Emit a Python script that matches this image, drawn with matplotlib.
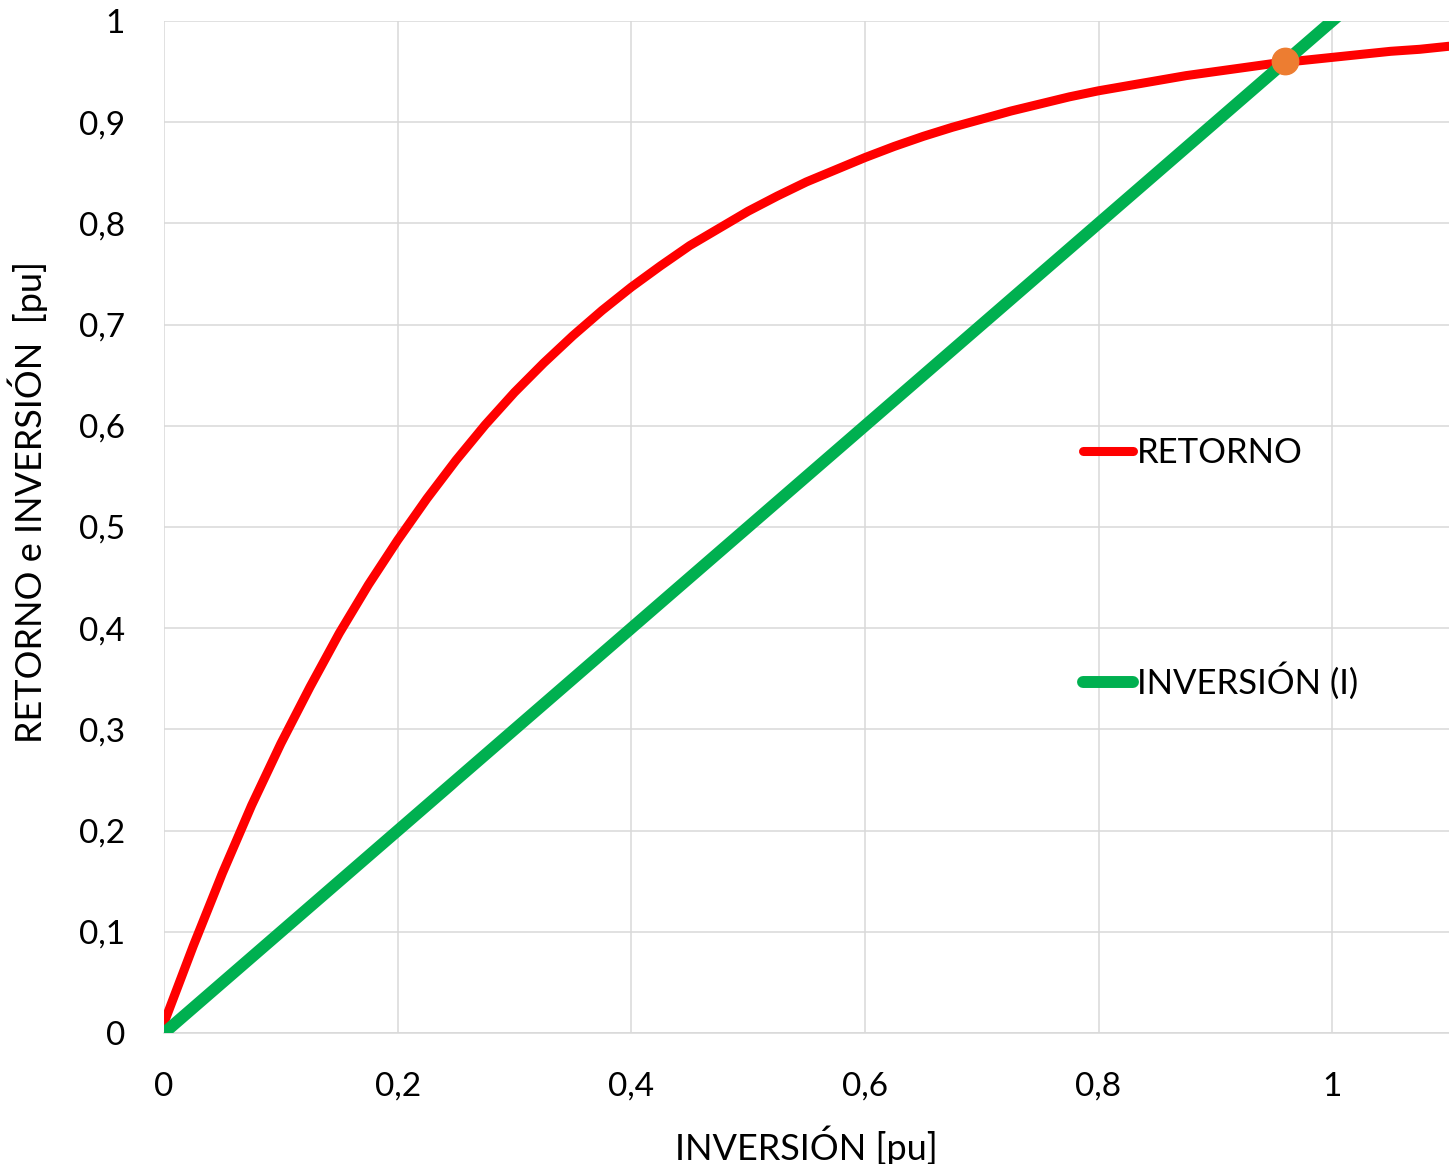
import matplotlib
matplotlib.use('Agg')
import matplotlib.pyplot as plt

plt.rcParams['font.family'] = ['Lato', 'DejaVu Sans']

# inversion (pu) and the return it gives
inversion = [0, 0.025, 0.05, 0.075, 0.1, 0.125, 0.15, 0.175, 0.2, 0.225, 0.25,
             0.275, 0.3, 0.325, 0.35, 0.375, 0.4, 0.425, 0.45, 0.475, 0.5,
             0.525, 0.55, 0.575, 0.6, 0.625, 0.65, 0.675, 0.7, 0.725, 0.75,
             0.775, 0.8, 0.825, 0.85, 0.875, 0.9, 0.925, 0.95, 0.975, 1.0,
             1.025, 1.05, 1.075, 1.1]
retorno = [0.01, 0.086, 0.158, 0.225, 0.286, 0.342, 0.395, 0.443, 0.487, 0.528,
           0.566, 0.601, 0.633, 0.662, 0.689, 0.714, 0.737, 0.758, 0.778, 0.795,
           0.812, 0.827, 0.841, 0.853, 0.865, 0.876, 0.886, 0.895, 0.903, 0.911,
           0.918, 0.925, 0.931, 0.936, 0.941, 0.946, 0.950, 0.954, 0.958, 0.961,
           0.964, 0.967, 0.970, 0.972, 0.975]

# straight line I = I
inv_x = [0, 1.1]
inv_y = [0, 1.1]

# where return meets the investment
cross_x = [0.96]
cross_y = [0.96]

x_ticks = [0, 0.2, 0.4, 0.6, 0.8, 1]
x_tick_labels = ['0', '0,2', '0,4', '0,6', '0,8', '1']
y_ticks = [0, 0.1, 0.2, 0.3, 0.4, 0.5, 0.6, 0.7, 0.8, 0.9, 1]
y_tick_labels = ['0', '0,1', '0,2', '0,3', '0,4', '0,5', '0,6', '0,7', '0,8', '0,9', '1']

fig = plt.figure(figsize=(14.49, 11.64), dpi=100)
ax = fig.add_axes([0.1132, 0.1125, 0.8868, 0.8695])

ax.plot(inversion, retorno, color='#FF0000', lw=6.5, solid_capstyle='round',
        solid_joinstyle='round', label='RETORNO', zorder=3)
ax.plot(inv_x, inv_y, color='#00B050', lw=8.6, solid_capstyle='round',
        label='INVERSIÓN (I)', zorder=4)
ax.plot(cross_x, cross_y, 'o', color='#ED7D31', markersize=19, zorder=5,
        label='_nolegend_')

ax.set_xlim(0, 1.1)
ax.set_ylim(0, 1)
ax.set_xticks(x_ticks)
ax.set_xticklabels(x_tick_labels)
ax.set_yticks(y_ticks)
ax.set_yticklabels(y_tick_labels)
ax.tick_params(axis='both', length=0, labelsize=24)
ax.tick_params(axis='y', pad=28)
ax.tick_params(axis='x', pad=28)

ax.grid(True, color='#D9D9D9', lw=1.1)
ax.set_axisbelow(True)
for s in ['top', 'right', 'left']:
    ax.spines[s].set_visible(False)
ax.spines['bottom'].set_color('#D9D9D9')
ax.spines['bottom'].set_linewidth(1.1)

ax.set_xlabel('INVERSIÓN [pu]', fontsize=26)
ax.xaxis.set_label_coords(0.5, -0.091)
ax.set_ylabel('RETORNO e INVERSIÓN  [pu]', fontsize=26)
ax.yaxis.set_label_coords(-0.0903, 0.525)

ax.legend(loc='center left', bbox_to_anchor=(0.715, 0.459), frameon=False,
          fontsize=25, handlelength=1.45, handletextpad=0.1, labelspacing=5.55,
          borderpad=0, borderaxespad=0)

fig.savefig('out.png', dpi=100)
